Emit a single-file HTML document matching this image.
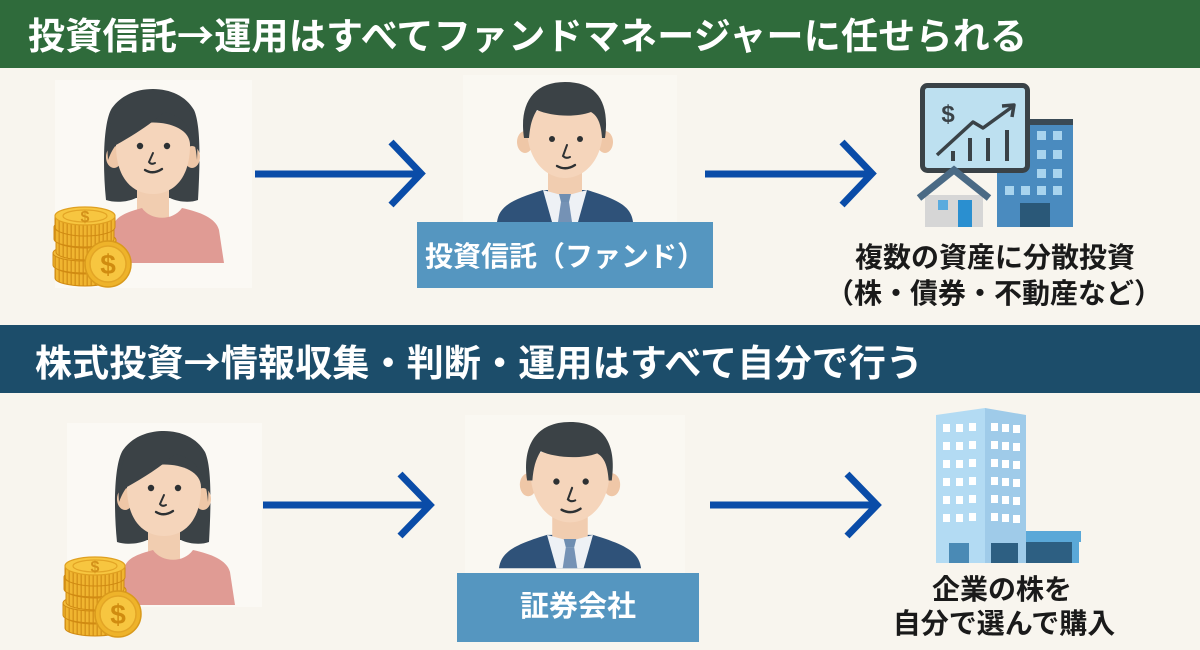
<!DOCTYPE html>
<html><head><meta charset="utf-8"><style>
html,body{margin:0;padding:0;background:#f8f5ee;}
svg{display:block;}
text{font-family:"Liberation Sans","Noto Sans CJK JP",sans-serif;font-weight:bold;}
.cj{font-family:"Noto Sans CJK JP","Liberation Sans",sans-serif;}
</style></head><body>
<svg width="1200" height="650" viewBox="0 0 1200 650" xmlns="http://www.w3.org/2000/svg">
<defs>
<pattern id="ridge" width="4" height="12" patternUnits="userSpaceOnUse">
<rect width="4" height="12" fill="#f0b530"/><rect x="2.5" width="1.4" height="12" fill="#d6921a"/>
</pattern>
<g id="woman">
<path d="M106,200 C102,160 104,120 112,108 C122,94 138,89 153,89 C170,89 186,96 194,110 C201,125 200,165 198,200 C190,203 178,202 170,198 L136,198 C128,202 115,203 106,200 Z" fill="#3b4246"/>
<rect x="137" y="180" width="32" height="42" fill="#f1cdb0"/>
<path d="M112,263 L113,228 C114,216 128,212 142,208 C150,220 172,222 182,208 C200,212 216,218 219,230 L224,263 Z" fill="#e09b94"/>
<ellipse cx="114" cy="157" rx="8" ry="11" fill="#efc7a7"/>
<ellipse cx="192" cy="157" rx="8" ry="11" fill="#efc7a7"/>
<path d="M116,145 C116,180 134,194 153,194 C172,194 190,180 190,145 C190,115 116,115 116,145 Z" fill="#f5d5bb"/>
<path d="M108,160 C104,112 126,90 153,90 C182,90 200,112 197,160 C196,145 192,132 184,122 C178,116 170,113 164,112 C150,125 132,136 116,145 C112,150 110,155 108,160 Z" fill="#3b4246"/>
<circle cx="140" cy="146" r="3.2" fill="#2d3133"/>
<circle cx="167" cy="146" r="3.2" fill="#2d3133"/>
<path d="M153,153 L149,162 Q151,165 155,163" stroke="#2d3133" stroke-width="2" fill="none" stroke-linecap="round"/>
<path d="M145,170 Q153,175 162,169" stroke="#2d3133" stroke-width="2.4" fill="none" stroke-linecap="round"/>
</g>
<g id="coins">
<path d="M55,266 L55,278 A30,8 0 0 0 115,278 L115,266 Z" fill="url(#ridge)" stroke="#d08a12" stroke-width="1"/>
<ellipse cx="85" cy="266" rx="30" ry="8" fill="#f3bd3a" stroke="#d08a12" stroke-width="1"/>
<path d="M53,253 L53,265 A30,8 0 0 0 113,265 L113,253 Z" fill="url(#ridge)" stroke="#d08a12" stroke-width="1"/>
<ellipse cx="83" cy="253" rx="30" ry="8" fill="#f3bd3a" stroke="#d08a12" stroke-width="1"/>
<path d="M56,240 L56,252 A30,8 0 0 0 116,252 L116,240 Z" fill="url(#ridge)" stroke="#d08a12" stroke-width="1"/>
<ellipse cx="86" cy="240" rx="30" ry="8" fill="#f3bd3a" stroke="#d08a12" stroke-width="1"/>
<path d="M54,227 L54,239 A30,8 0 0 0 114,239 L114,227 Z" fill="url(#ridge)" stroke="#d08a12" stroke-width="1"/>
<ellipse cx="84" cy="227" rx="30" ry="8" fill="#f3bd3a" stroke="#d08a12" stroke-width="1"/>
<path d="M55,216 L55,227 A30,9 0 0 0 115,227 L115,216 Z" fill="url(#ridge)" stroke="#d08a12" stroke-width="1"/>
<ellipse cx="85" cy="216" rx="30" ry="9" fill="#f7c640" stroke="#e0a020" stroke-width="1.2"/>
<ellipse cx="85" cy="216" rx="22" ry="6" fill="none" stroke="#e3a526" stroke-width="1.2"/>
<text x="85" y="222" font-size="16" fill="#d4921a" text-anchor="middle">$</text>
<circle cx="108" cy="264" r="23" fill="#eeb32a" stroke="#d99a1c" stroke-width="1.5"/>
<circle cx="108" cy="264" r="18" fill="#f7c640" stroke="#e3a526" stroke-width="1.5"/>
<text x="108" y="274" font-size="28" fill="#d08c10" text-anchor="middle">$</text>
</g>
<g id="man">
<path d="M-68,140 C-66,125 -55,118 -22,108 L22,108 C55,118 66,125 68,140 Z" fill="#2f5279"/>
<path d="M-17,85 L17,85 L17,110 L0,116 L-17,110 Z" fill="#f1cdb0"/>
<path d="M-22,108 L0,114 L22,108 L13,140 L-13,140 Z" fill="#eef1f5"/>
<path d="M-6,112 L6,112 L4,120 L-4,120 Z" fill="#6f8eb1"/>
<path d="M-4,120 L4,120 L7,140 L-7,140 Z" fill="#7592b5"/>
<ellipse cx="-40" cy="60" rx="8" ry="11" fill="#efc7a7"/>
<ellipse cx="40" cy="60" rx="8" ry="11" fill="#efc7a7"/>
<path d="M-38,45 C-38,80 -18,96 0,96 C18,96 38,80 38,45 C38,15 -38,15 -38,45 Z" fill="#f5d5bb"/>
<path d="M-41,56 C-46,22 -32,0 0,0 C32,0 45,20 40,56 L37,56 C36,42 33,34 26,30 C10,36 -15,34 -28,28 C-33,36 -35,44 -36,56 Z" fill="#3b4246"/>
<circle cx="-13" cy="57" r="3" fill="#2d3133"/>
<circle cx="15" cy="57" r="3" fill="#2d3133"/>
<path d="M2,63 L-2,74 Q1,77 5,75" stroke="#2d3133" stroke-width="2" fill="none" stroke-linecap="round"/>
<path d="M-8,84 Q1,89 10,83" stroke="#2d3133" stroke-width="2.4" fill="none" stroke-linecap="round"/>
</g>
</defs>

<!-- header 1 -->
<rect x="0" y="0" width="1200" height="68" fill="#2f6b3b"/>
<text x="28" y="49" font-size="37" fill="#ffffff" textLength="999" lengthAdjust="spacing">投資信託<tspan class="cj">→</tspan>運用はすべてファンドマネージャーに任せられる</text>

<!-- header 2 -->
<rect x="0" y="325" width="1200" height="68" fill="#1c4d6a"/>
<text x="35" y="376" font-size="37" fill="#ffffff" textLength="888" lengthAdjust="spacing">株式投資<tspan class="cj">→</tspan>情報収集・判断・運用はすべて自分で行う</text>

<!-- subtle illustration backgrounds -->
<rect x="55" y="80" width="197" height="208" fill="#fbf9f4"/>
<rect x="463" y="75" width="214" height="147" fill="#faf8f2"/>
<rect x="67" y="423" width="195" height="184" fill="#fbf9f4"/>
<rect x="465" y="415" width="220" height="158" fill="#faf8f2"/>

<!-- section 1 -->
<use href="#woman"/>
<use href="#coins"/>
<g transform="translate(565,82)"><use href="#man"/></g>
<rect x="417" y="222" width="296" height="66" fill="#5596c0"/>
<text x="565" y="266" font-size="28" fill="#ffffff" text-anchor="middle">投資信託（ファンド）</text>

<!-- arrows -->
<g stroke="#0a4ca8" stroke-width="7" fill="none" stroke-linejoin="miter">
<line x1="255" y1="174" x2="420" y2="174"/>
<polyline points="391,142 421,173.5 391,205"/>
<line x1="705" y1="174" x2="870" y2="174"/>
<polyline points="842,142 872,173.5 842,205"/>
<line x1="263" y1="505" x2="428" y2="505"/>
<polyline points="400,474 430,505 400,536"/>
<line x1="710" y1="505" x2="875" y2="505"/>
<polyline points="847,474 877,505 847,536"/>
</g>

<!-- chart icon -->
<rect x="997" y="119" width="76" height="108" fill="#4a8bbf"/>
<rect x="997" y="119" width="76" height="6" fill="#3a4a55"/>
<g fill="#a8d4ee">
<rect x="1037" y="131" width="9" height="9"/><rect x="1053" y="131" width="9" height="9"/>
<rect x="1037" y="150" width="9" height="9"/><rect x="1053" y="150" width="9" height="9"/>
<rect x="1037" y="169" width="9" height="9"/><rect x="1053" y="169" width="9" height="9"/>
<rect x="1005" y="186" width="9" height="9"/><rect x="1021" y="186" width="9" height="9"/>
<rect x="1037" y="186" width="9" height="9"/><rect x="1053" y="186" width="9" height="9"/>
</g>
<rect x="1020" y="203" width="30" height="24" fill="#2a5878"/>
<rect x="922.5" y="85.5" width="105" height="85" rx="5" fill="#bde0f0" stroke="#3a4247" stroke-width="5"/>
<text x="948" y="122" font-size="24" fill="#3a4247" text-anchor="middle">$</text>
<g fill="#3a4247">
<rect x="951" y="151" width="4" height="10"/>
<rect x="968" y="138" width="4" height="23"/>
<rect x="986" y="138" width="4" height="23"/>
<rect x="1005" y="130" width="4" height="31"/>
</g>
<polyline points="937,155 973,122 983,128 1012,107" fill="none" stroke="#3a4247" stroke-width="3.5" stroke-linejoin="round"/>
<polyline points="1002,106 1014,105 1012,117" fill="none" stroke="#3a4247" stroke-width="3.5" stroke-linejoin="round"/>
<rect x="925" y="195" width="58" height="32" fill="#d6d6d6"/>
<polyline points="919,198 954,170 989,198" fill="none" stroke="#4a6a85" stroke-width="7" stroke-linejoin="miter"/>
<rect x="938" y="200" width="10" height="10" fill="#5aabde"/>
<rect x="958" y="200" width="14" height="27" fill="#2a8fd0"/>
<text x="995" y="267" font-size="28" fill="#1a1a1a" text-anchor="middle">複数の資産に分散投資</text>
<text x="994" y="303" font-size="28" fill="#1a1a1a" text-anchor="middle">（株・債券・不動産など）</text>

<!-- section 2 -->
<g transform="translate(11,342)"><use href="#woman"/></g>
<g transform="translate(10,350)"><use href="#coins"/></g>
<g transform="translate(570,422) scale(1.045)"><use href="#man"/></g>
<rect x="457" y="573" width="242" height="69" fill="#5596c0"/>
<text x="578" y="616" font-size="29" fill="#ffffff" text-anchor="middle">証券会社</text>

<!-- building -->
<path d="M936,415 L985,408 L985,563 L936,563 Z" fill="#b3dbf3"/>
<path d="M985,408 L1026,415 L1026,563 L985,563 Z" fill="#9fcbe9"/>
<g fill="#ffffff">
<rect x="943" y="424" width="7" height="8"/><rect x="956" y="424" width="7" height="8"/><rect x="969" y="423" width="7" height="8"/>
<rect x="991" y="423" width="7" height="8"/><rect x="1002" y="424" width="7" height="8"/><rect x="1013" y="425" width="7" height="8"/>
<rect x="943" y="442" width="7" height="8"/><rect x="956" y="442" width="7" height="8"/><rect x="969" y="441" width="7" height="8"/>
<rect x="991" y="441" width="7" height="8"/><rect x="1002" y="442" width="7" height="8"/><rect x="1013" y="443" width="7" height="8"/>
<rect x="943" y="460" width="7" height="8"/><rect x="956" y="460" width="7" height="8"/><rect x="969" y="459" width="7" height="8"/>
<rect x="991" y="459" width="7" height="8"/><rect x="1002" y="460" width="7" height="8"/><rect x="1013" y="461" width="7" height="8"/>
<rect x="943" y="478" width="7" height="8"/><rect x="956" y="478" width="7" height="8"/><rect x="969" y="477" width="7" height="8"/>
<rect x="991" y="477" width="7" height="8"/><rect x="1002" y="478" width="7" height="8"/><rect x="1013" y="479" width="7" height="8"/>
<rect x="943" y="496" width="7" height="8"/><rect x="956" y="496" width="7" height="8"/><rect x="969" y="495" width="7" height="8"/>
<rect x="991" y="495" width="7" height="8"/><rect x="1002" y="496" width="7" height="8"/><rect x="1013" y="497" width="7" height="8"/>
<rect x="943" y="514" width="7" height="8"/><rect x="956" y="514" width="7" height="8"/><rect x="969" y="513" width="7" height="8"/>
<rect x="991" y="513" width="7" height="8"/><rect x="1002" y="514" width="7" height="8"/><rect x="1013" y="515" width="7" height="8"/>
</g>
<rect x="949" y="543" width="20" height="20" fill="#4a8ab5"/>
<rect x="991" y="543" width="27" height="20" fill="#2d5f82"/>
<rect x="1026" y="531" width="55" height="11" fill="#5aa8d8"/>
<rect x="1026" y="542" width="46" height="21" fill="#2d5f82"/>
<rect x="1072" y="542" width="7" height="21" fill="#5aa8d8"/>
<text x="1002" y="599" font-size="28" fill="#1a1a1a" text-anchor="middle">企業の株を</text>
<text x="1004" y="633" font-size="28" fill="#1a1a1a" text-anchor="middle">自分で選んで購入</text>
</svg>
</body></html>
